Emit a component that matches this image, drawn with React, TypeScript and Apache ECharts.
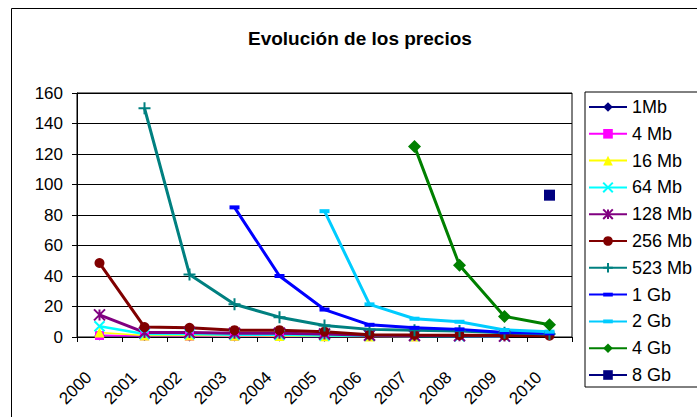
import React, { useEffect, useRef } from "react";
import * as echarts from "echarts";

const years = ["2000", "2001", "2002", "2003", "2004", "2005", "2006", "2007", "2008", "2009", "2010"];
const yTicks = { min: 0, max: 160, interval: 20 };

const mb1 = [1, 0.6, 0.4, 0.3, 0.3, 0.2, null, null, null, null, null];
const mb4 = [1, 0.8, 0.6, 0.5, 0.4, 0.3, 0.3, 0.2, null, null, null];
const mb16 = [3, 1, 1, 0.8, 0.7, 0.5, 0.4, 0.3, null, null, null];
const mb64 = [7, 2, 2, 1.5, 1.5, 1, 0.8, 0.6, 0.5, 0.4, null];
const mb128 = [14.5, 3, 3, 2.5, 2.5, 2, 1.2, 1, 0.8, 0.6, null];
const mb256 = [48.5, 6.5, 6, 4.5, 4.5, 3.5, 1.5, 1.3, 1.2, 1, 0.8];
const mb523 = [null, 150, 41, 21.5, 13, 7.5, 5, 4.5, 4, 2.8, 2];
const gb1 = [null, null, null, 85, 40, 18, 8, 6, 5, 3, 2.4];
const gb2 = [null, null, null, null, null, 82.5, 21.4, 12, 10, 4.6, 3.5];
const gb4 = [null, null, null, null, null, null, null, 125, 47, 13.5, 8];
const gb8 = [null, null, null, null, null, null, null, null, null, null, 93];

const FONT = "'Liberation Sans', Arial, sans-serif";

const X_PATH = "path://M0,0L10,10M10,0L0,10";
const STAR_PATH = "path://M0,0L10,10M10,0L0,10M5,0L5,10";
const PLUS_PATH = "path://M5,0L5,10M0,5L10,5";
const DASH_PATH = "path://M0,0M10,10M0,3H10V7H0Z";

type SDef = {
  name: string;
  data: (number | null)[];
  color: string;
  width: number;
  symbol: string;
  size: number | number[];
  stroke?: boolean;
};

const defs: SDef[] = [
  { name: "1Mb", data: mb1, color: "#000080", width: 1.5, symbol: "diamond", size: 10 },
  { name: "4 Mb", data: mb4, color: "#FF00FF", width: 1.5, symbol: "rect", size: 9 },
  { name: "16 Mb", data: mb16, color: "#FFFF00", width: 1.5, symbol: "triangle", size: 10 },
  { name: "64 Mb", data: mb64, color: "#00FFFF", width: 2.5, symbol: X_PATH, size: 10, stroke: true },
  { name: "128 Mb", data: mb128, color: "#800080", width: 3, symbol: STAR_PATH, size: 11, stroke: true },
  { name: "256 Mb", data: mb256, color: "#800000", width: 3, symbol: "circle", size: 10 },
  { name: "523 Mb", data: mb523, color: "#008080", width: 3, symbol: PLUS_PATH, size: 12, stroke: true },
  { name: "1 Gb", data: gb1, color: "#0000FF", width: 3, symbol: DASH_PATH, size: 10 },
  { name: "2 Gb", data: gb2, color: "#00CCFF", width: 3, symbol: DASH_PATH, size: 10 },
  { name: "4 Gb", data: gb4, color: "#008000", width: 3, symbol: "diamond", size: 13 },
  { name: "8 Gb", data: gb8, color: "#000080", width: 3, symbol: "rect", size: 11 },
];

export default function App() {
  const ref = useRef<HTMLDivElement>(null);
  useEffect(() => {
    const chart = echarts.init(ref.current!, null, { renderer: "svg" });
    const option: any = {
      animation: false,
      backgroundColor: "#fff",
      textStyle: { fontFamily: FONT, color: "#000" },
      title: {
        text: "Evolución de los precios",
        left: 248,
        top: 29,
        padding: 0,
        textStyle: { fontFamily: FONT, fontSize: 19, fontWeight: "bold", color: "#000" },
      },
      graphic: [
        {
          type: "rect",
          silent: true,
          z: -10,
          shape: { x: 11.5, y: 8.5, width: 700, height: 420 },
          style: { fill: "none", stroke: "#000", lineWidth: 1 },
        },
      ],
      legend: {
        orient: "vertical",
        left: 585,
        top: 92,
        padding: [6, 9, 3, 3],
        itemWidth: 38,
        itemHeight: 12,
        itemGap: 8.8,
        borderColor: "#000",
        borderWidth: 1,
        backgroundColor: "#fff",
        textStyle: { fontFamily: FONT, fontSize: 18, lineHeight: 18, color: "#000" },
        data: defs.map((d) => d.name),
      },
      grid: {
        left: 77,
        top: 93,
        right: 125,
        bottom: 80,
        show: true,
        borderColor: "#000",
        borderWidth: 1,
        backgroundColor: "#fff",
      },
      xAxis: {
        type: "category",
        data: years,
        boundaryGap: true,
        axisLine: { show: true, lineStyle: { color: "#000", width: 1 } },
        axisTick: { show: true, length: 5, alignWithLabel: false, lineStyle: { color: "#000" } },
        axisLabel: {
          rotate: 45,
          margin: 27,
          padding: [0, 15, 0, 0],
          fontFamily: FONT,
          fontSize: 17,
          color: "#000",
          interval: 0,
        },
        splitLine: { show: false },
      },
      yAxis: {
        type: "value",
        min: yTicks.min,
        max: yTicks.max,
        interval: yTicks.interval,
        axisLine: { show: true, lineStyle: { color: "#000", width: 1 } },
        axisTick: { show: true, length: 5, lineStyle: { color: "#000" } },
        axisLabel: { margin: 14, fontFamily: FONT, fontSize: 17, color: "#000" },
        splitLine: { show: true, lineStyle: { color: "#000", width: 1 } },
      },
      series: defs.map((d) => ({
        name: d.name,
        type: "line",
        data: d.data,
        connectNulls: false,
        symbol: d.symbol,
        symbolSize: d.size,
        showAllSymbol: true,
        color: d.color,
        lineStyle: { color: d.color, width: d.width },
        itemStyle: d.stroke
          ? { color: d.color, borderColor: d.color, borderWidth: 2 }
          : { color: d.color, borderColor: d.color, borderWidth: 0 },
        emphasis: { disabled: true },
      })),
    };
    chart.setOption(option);
    return () => chart.dispose();
  }, []);
  return (
    <div
      ref={ref}
      style={{ position: "fixed", left: 0, top: 0, width: 697, height: 417, background: "#fff" }}
    />
  );
}
